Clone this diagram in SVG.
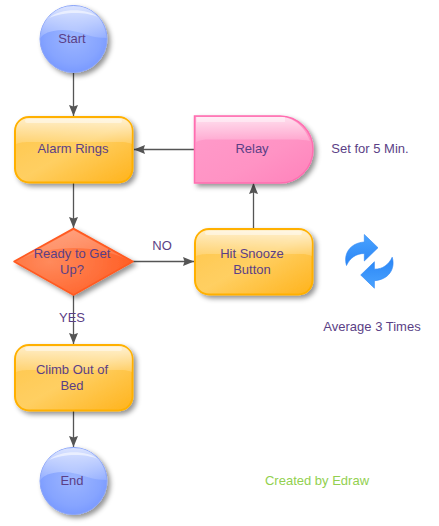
<svg xmlns="http://www.w3.org/2000/svg" xmlns:xlink="http://www.w3.org/1999/xlink" width="439" height="526" viewBox="0 0 439 526">
<style>
text{font-family:"Liberation Sans",Arial,sans-serif;font-size:13px;fill:#5b3f86;text-anchor:middle}
.conn{fill:none;stroke:#555;stroke-width:1.3}
</style>
<defs>
<marker id="arrow" markerUnits="userSpaceOnUse" markerWidth="12" markerHeight="10" refX="11" refY="4.500" orient="auto"><path d="M0,0L11,4.500L0,9L1.500,4.500Z" fill="#555"/></marker>
<filter id="shadow" x="-15%" y="-15%" width="135%" height="135%"><feDropShadow dx="3" dy="3" stdDeviation="2.500" flood-color="#000" flood-opacity=".42"/></filter>
<radialGradient id="blue" cx=".5" cy=".45" r=".6"><stop offset="0" stop-color="#9db6ff"/><stop offset=".7" stop-color="#86a4ff"/><stop offset="1" stop-color="#7596ff"/></radialGradient>
<linearGradient id="orange" x1="0" y1="0" x2="1" y2="1"><stop offset="0" stop-color="#ffc64a"/><stop offset=".5" stop-color="#ffcf62"/><stop offset="1" stop-color="#ffb31c"/></linearGradient>
<linearGradient id="pink" x1="0" y1="0" x2="1" y2="1"><stop offset="0" stop-color="#ff9ccb"/><stop offset=".6" stop-color="#ff93c4"/><stop offset="1" stop-color="#ff82bb"/></linearGradient>
<radialGradient id="red" cx=".3" cy=".5" r=".75"><stop offset="0" stop-color="#ff8a5c"/><stop offset="1" stop-color="#ff5c22"/></radialGradient>
<linearGradient id="gl" x1="0" y1="0" x2="0" y2="1"><stop offset="0" stop-color="#fff" stop-opacity=".7"/><stop offset="1" stop-color="#fff" stop-opacity=".15"/></linearGradient>
<linearGradient id="icon" x1="0" y1="0" x2="0" y2="1"><stop offset="0" stop-color="#4aa3ff"/><stop offset="1" stop-color="#2a85f5"/></linearGradient>
<path id="bend" d="M378,247.700L364.300,234.500V242C350,243 343,254 346.500,265.500C350,258 356,253.500 364.300,253.500V261Z" fill="url(#icon)" stroke="#2a85f5" stroke-width=".6"/>
<g id="roundbox"><rect x="1" y="1" width="117.500" height="65.500" rx="14" fill="url(#orange)" stroke="#ffb000" stroke-width="2" filter="url(#shadow)"/><path d="M2,28V15C2,7 8,2 15,2H105C112,2 118,7 118,15V28C116,27 112,26 105,26H15C8,26 4,27 2,28Z" fill="url(#gl)"/><rect x="11" y="3" width="97" height="4" rx="2" fill="#fff" opacity=".45"/></g>
<g id="ball"><circle cx="34" cy="34" r="33.500" fill="url(#blue)" stroke="#8aa4f8" filter="url(#shadow)"/><path d="M1,33C4,29 8,27 14,26C22,24 30,25 38,27C48,30 56,33 67,33C66,14 52,1 34,1S2,14 1,33Z" fill="url(#gl)"/><path d="M10,13C20,3 48,3 58,12C48,7 24,6 10,13Z" fill="#fff" opacity=".55"/></g>
</defs>

<g id="connectors">
<path class="conn" d="M73.500,73V116" marker-end="url(#arrow)"/>
<path class="conn" d="M73.500,183V228" marker-end="url(#arrow)"/>
<path class="conn" d="M73.500,295V344" marker-end="url(#arrow)"/>
<path class="conn" d="M73.500,411V447" marker-end="url(#arrow)"/>
<path class="conn" d="M133,261.500H194" marker-end="url(#arrow)"/>
<path class="conn" d="M253.500,228V183" marker-end="url(#arrow)"/>
<path class="conn" d="M194,149.500H134" marker-end="url(#arrow)"/>
</g>

<g id="start"><use xlink:href="#ball" href="#ball" x="39.500" y="5"/><text x="72" y="43">Start</text></g>
<g id="alarm"><use xlink:href="#roundbox" href="#roundbox" x="14" y="116"/><text x="73" y="153">Alarm Rings</text></g>
<g id="relay"><path d="M194.500,116H280C298,116 313,131 313,149.500S298,183 280,183H194.500Z" fill="url(#pink)" stroke="#ff6eb0" stroke-width="1.500" filter="url(#shadow)"/><path d="M196,117H280C294,117 305,127 310,141C305,140 300,139.500 294,139.500H210C204,139.500 200,140 196,142Z" fill="url(#gl)"/><rect x="197" y="117" width="88" height="5" fill="#fff" opacity=".4"/><text x="252" y="153">Relay</text></g>
<g id="ready"><path d="M73.500,228.500L133,261.500L73.500,295L14,261.500Z" fill="url(#red)" stroke="#ff5a20" stroke-linejoin="round" stroke-width="1.500" filter="url(#shadow)"/><path d="M73.500,230L128,260C118,255 100,248 73.500,248S29,255 19,260Z" fill="url(#gl)" opacity=".5"/><text x="72" y="258">Ready to Get</text><text x="72" y="274">Up?</text></g>
<g id="snooze"><use xlink:href="#roundbox" href="#roundbox" x="194" y="228"/><text x="252" y="258">Hit Snooze</text><text x="252" y="274">Button</text></g>
<g id="climb"><use xlink:href="#roundbox" href="#roundbox" x="14" y="344"/><text x="72" y="374">Climb Out of</text><text x="72" y="390">Bed</text></g>
<g id="end"><use xlink:href="#ball" href="#ball" x="39.500" y="447"/><text x="72" y="485">End</text></g>
<g id="cycle"><use xlink:href="#bend" href="#bend"/><use xlink:href="#bend" href="#bend" transform="rotate(180 369.350 261.350)"/></g>
<g id="labels">
<text x="162" y="250">NO</text>
<text x="72" y="322">YES</text>
<text x="370" y="153">Set for 5 Min.</text>
<text x="372" y="331">Average 3 Times</text>
<text x="317" y="485" style="fill:#92d050">Created by Edraw</text>
</g>
</svg>
